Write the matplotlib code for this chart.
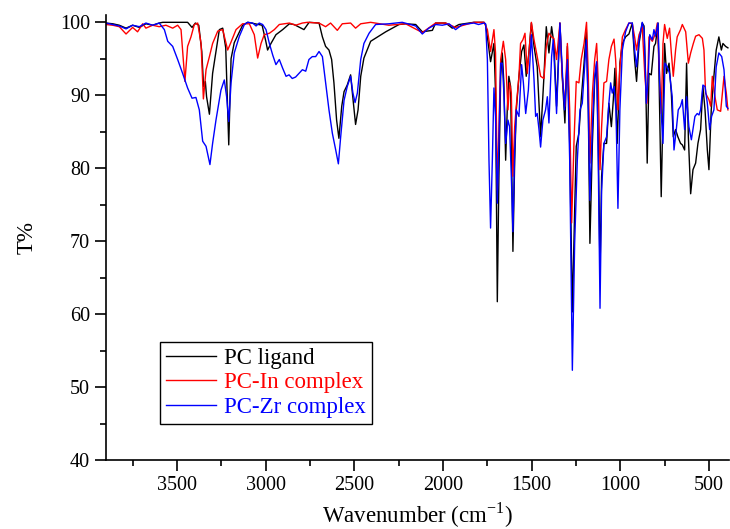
import matplotlib
matplotlib.use('Agg')
import matplotlib.pyplot as plt
from matplotlib.ticker import MultipleLocator

plt.rcParams['font.family'] = ['Liberation Serif', 'DejaVu Serif']
plt.rcParams['mathtext.fontset'] = 'custom'
plt.rcParams['mathtext.rm'] = 'Liberation Serif'

# PC ligand (black)
wn_ligand = [3900, 3862, 3825, 3787, 3750, 3712, 3675, 3637, 3600, 3580, 3530, 3480, 3440, 3415,
             3396, 3377, 3360, 3350, 3340, 3333, 3317, 3299, 3261, 3242, 3225, 3208, 3195,
             3177, 3130, 3101, 3060, 3020, 3000, 2989, 2970, 2942, 2904, 2866, 2840, 2784,
             2755, 2699, 2680, 2662, 2643, 2628, 2615, 2600, 2587, 2571, 2558, 2540, 2521,
             2511, 2493, 2479, 2464, 2446, 2408, 2323, 2248, 2211, 2154, 2117, 2060, 2042,
             1985, 1948, 1910, 1826, 1790, 1769, 1760, 1750, 1732, 1713, 1704, 1694, 1685,
             1675, 1666, 1657, 1647, 1638, 1629, 1619, 1613, 1606, 1596, 1587, 1572, 1557,
             1544, 1531, 1516, 1502, 1487, 1469, 1450, 1431, 1418, 1403, 1388, 1375, 1360,
             1341, 1328, 1313, 1299, 1286, 1271, 1258, 1249, 1234, 1221, 1205, 1192, 1181,
             1172, 1158, 1145, 1134, 1125, 1115, 1106, 1093, 1078, 1065, 1051, 1040, 1031,
             1018, 1003, 989, 971, 952, 933, 920, 909, 895, 877, 867, 858, 849, 839, 826,
             811, 802, 788, 779, 770, 760, 751, 740, 726, 713, 702, 689, 676, 661, 651, 638,
             627, 617, 604, 591, 576, 563, 548, 535, 523, 510, 501, 488, 473, 460, 445, 431,
             422, 407, 394]
t_ligand = [99.9, 99.8, 99.6, 99.2, 99.6, 99.3, 99.8, 99.6, 99.9, 100, 100, 100, 100, 99.3,
            99.9, 99.6, 96.0, 91.2, 91.9, 89.8, 87.4, 93.0, 99.0, 99.2, 96.5, 83.2, 95.0,
            97.2, 99.6, 100, 99.8, 99.6, 97.5, 96.2, 97.1, 98.3, 99.0, 99.8, 99.7, 99.0,
            100, 99.9, 98.0, 96.7, 96.2, 94.9, 91.7, 86.6, 84.1, 88.5, 90.5, 91.4, 92.8,
            90.3, 86.0, 88.0, 92.6, 95.1, 97.4, 98.7, 99.7, 99.8, 99.7, 98.7, 98.9, 99.9,
            99.9, 99.2, 99.7, 100, 100, 100, 99.7, 98.0, 94.6, 97.1, 90.3, 61.7, 78.9,
            92.6, 95.8, 91.7, 81.1, 88.0, 92.6, 91.2, 81.1, 68.6, 81.1, 88.0, 92.6, 96.0,
            96.9, 92.6, 95.8, 99.9, 96.7, 93.9, 84.3, 92.6, 99.4, 95.8, 99.4, 97.1, 88.5,
            99.9, 92.6, 86.2, 96.7, 83.4, 60.3, 74.2, 83.0, 84.8, 89.4, 94.4, 99.0, 88.0,
            69.7, 83.4, 92.1, 94.4, 83.4, 65.8, 78.9, 83.4, 83.4, 88.9, 85.7, 89.4, 93.7,
            83.4, 94.4, 97.1, 98.0, 98.4, 99.9, 94.9, 91.9, 97.1, 99.9, 99.5, 92.6, 80.7,
            93.0, 92.8, 96.7, 97.1, 99.9, 88.0, 76.1, 88.0, 97.1, 93.0, 94.4, 90.3, 84.3,
            85.3, 84.3, 83.4, 83.2, 82.5, 94.4, 84.3, 76.5, 79.8, 80.7, 83.4, 85.3, 91.2,
            88.0, 82.5, 79.8, 88.0, 92.6, 96.2, 98.0, 96.2, 97.1, 96.7, 96.5]

# PC-In complex (red)
wn_in = [3900, 3862, 3825, 3787, 3750, 3722, 3693, 3675, 3637, 3600, 3562, 3524, 3496, 3477,
         3464, 3455, 3440, 3421, 3402, 3383, 3364, 3351, 3336, 3317, 3299, 3270, 3242,
         3214, 3195, 3167, 3130, 3092, 3064, 3045, 3026, 3008, 2979, 2951, 2923, 2866,
         2831, 2793, 2765, 2699, 2662, 2634, 2596, 2568, 2521, 2493, 2464, 2408, 2305,
         2211, 2117, 2042, 1985, 1929, 1826, 1769, 1750, 1732, 1713, 1704, 1694, 1685,
         1675, 1660, 1647, 1634, 1625, 1615, 1606, 1596, 1587, 1572, 1563, 1550, 1538,
         1525, 1502, 1487, 1469, 1450, 1431, 1418, 1403, 1388, 1375, 1360, 1341, 1328,
         1313, 1299, 1286, 1275, 1262, 1249, 1234, 1221, 1205, 1191, 1181, 1172, 1158,
         1145, 1134, 1125, 1115, 1106, 1093, 1078, 1065, 1051, 1036, 1027, 1014, 1003,
         989, 971, 952, 933, 920, 909, 895, 877, 862, 850, 839, 820, 802, 792, 779, 770,
         760, 751, 736, 723, 713, 702, 689, 680, 661, 651, 632, 617, 604, 589, 576, 557,
         538, 529, 520, 501, 491, 482, 467, 454, 435, 416, 403, 394]
t_in = [99.7, 99.6, 99.4, 98.4, 99.3, 98.7, 99.8, 99.2, 99.6, 99.4, 99.6, 99.2, 99.6, 99.0,
        94.9, 91.9, 96.7, 98.0, 99.7, 99.9, 97.1, 89.5, 93.5, 95.3, 97.1, 98.8, 99.0,
        96.2, 97.3, 99.0, 99.8, 99.8, 98.3, 95.1, 97.1, 98.3, 98.5, 99.0, 99.7, 99.9,
        99.6, 99.9, 100, 99.9, 99.4, 99.9, 98.9, 99.8, 99.9, 99.2, 99.8, 100, 99.6,
        99.8, 98.6, 99.9, 99.9, 99.3, 100, 100, 99.0, 96.0, 99.0, 95.8, 77.0, 85.7,
        94.9, 97.4, 94.9, 88.0, 91.7, 90.3, 78.9, 85.7, 88.5, 92.6, 97.1, 97.6, 98.5,
        93.0, 100, 97.6, 95.3, 92.6, 92.3, 96.7, 98.5, 98.0, 97.8, 94.9, 99.9, 92.6,
        88.5, 97.1, 88.0, 72.5, 83.4, 91.9, 91.7, 94.9, 97.1, 100, 92.6, 80.7, 90.3,
        94.9, 97.1, 91.7, 79.8, 85.7, 91.7, 91.9, 94.9, 96.7, 97.7, 94.9, 88.0, 93.9,
        98.0, 99.0, 99.9, 99.8, 98.0, 96.2, 98.3, 99.4, 92.6, 88.9, 98.0, 97.4, 98.5,
        99.9, 92.8, 87.5, 97.1, 99.7, 97.8, 99.2, 95.8, 92.6, 96.2, 98.0, 99.0, 99.7,
        98.7, 94.4, 95.8, 97.1, 98.1, 98.3, 97.8, 96.2, 90.3, 89.4, 88.5, 92.6, 89.8,
        88.0, 87.8, 92.6, 90.3, 88.0]

# PC-Zr complex (blue)
wn_zr = [3900, 3862, 3825, 3787, 3750, 3712, 3675, 3637, 3600, 3571, 3552, 3524, 3496, 3468,
         3440, 3415, 3393, 3374, 3355, 3336, 3314, 3299, 3280, 3252, 3233, 3220, 3208,
         3195, 3177, 3148, 3120, 3101, 3073, 3054, 3036, 3017, 2998, 2979, 2960, 2942,
         2923, 2904, 2885, 2868, 2850, 2831, 2793, 2774, 2756, 2737, 2718, 2699, 2680,
         2662, 2643, 2624, 2605, 2590, 2577, 2558, 2540, 2521, 2508, 2496, 2483, 2464,
         2446, 2417, 2380, 2305, 2230, 2154, 2117, 2080, 2042, 2004, 1966, 1929, 1891,
         1826, 1800, 1769, 1760, 1750, 1741, 1732, 1722, 1713, 1704, 1694, 1685, 1675,
         1666, 1657, 1647, 1634, 1625, 1615, 1606, 1596, 1587, 1572, 1557, 1547, 1534,
         1519, 1502, 1487, 1478, 1469, 1459, 1450, 1437, 1422, 1412, 1403, 1388, 1379,
         1369, 1360, 1341, 1328, 1315, 1299, 1286, 1271, 1258, 1243, 1228, 1215, 1205,
         1192, 1181, 1172, 1158, 1145, 1134, 1125, 1115, 1106, 1093, 1078, 1065, 1055,
         1046, 1036, 1025, 1014, 1003, 989, 971, 952, 933, 920, 909, 895, 877, 867, 854,
         843, 835, 820, 811, 802, 788, 779, 770, 760, 749, 736, 723, 708, 698, 685, 674,
         661, 651, 638, 627, 614, 600, 589, 580, 567, 557, 548, 535, 523, 510, 497, 486,
         473, 460, 445, 429, 416, 403, 394]
t_zr = [99.9, 99.7, 99.5, 99.1, 99.6, 99.4, 99.9, 99.6, 99.9, 99.0, 97.4, 96.7, 94.9, 93.0,
        91.0, 89.6, 89.7, 88.0, 83.7, 83.0, 80.5, 83.4, 86.6, 90.7, 92.1, 89.8, 86.4,
        91.7, 95.8, 98.1, 99.7, 100, 99.9, 99.5, 99.9, 99.7, 99.0, 97.1, 95.5, 94.2,
        94.9, 93.7, 92.6, 92.8, 92.3, 92.5, 93.5, 93.3, 94.9, 95.3, 95.3, 96.0, 95.3,
        91.7, 88.0, 84.8, 82.5, 80.6, 84.3, 89.3, 91.2, 92.6, 90.3, 89.0, 90.3, 94.9,
        97.1, 98.5, 99.7, 99.8, 100, 99.5, 98.4, 99.2, 99.7, 99.6, 99.8, 99.0, 99.7,
        99.9, 99.7, 99.9, 99.8, 94.9, 81.1, 71.8, 81.1, 91.0, 87.1, 75.2, 83.4, 94.4,
        94.4, 90.3, 83.4, 86.6, 85.7, 78.9, 71.3, 82.5, 88.0, 87.1, 94.2, 91.7, 87.5,
        90.7, 98.3, 92.1, 87.1, 87.5, 85.3, 82.9, 86.6, 88.0, 89.8, 86.2, 95.3, 97.6,
        92.6, 87.5, 99.9, 93.5, 88.0, 94.9, 81.1, 52.3, 69.7, 81.1, 88.0, 88.9, 92.6,
        97.6, 88.0, 75.6, 85.7, 92.6, 94.6, 81.1, 60.8, 76.9, 83.4, 84.3, 88.9, 91.7,
        90.3, 91.2, 88.0, 74.5, 88.0, 96.2, 98.7, 99.9, 99.9, 96.2, 93.9, 97.6, 100,
        99.0, 88.9, 92.6, 98.3, 97.6, 99.0, 98.1, 99.9, 91.9, 87.5, 83.4, 94.4, 93.9,
        93.0, 89.8, 82.5, 85.3, 88.0, 88.5, 89.4, 85.3, 89.8, 85.7, 83.9, 85.7, 87.1,
        87.5, 87.3, 88.0, 91.4, 91.2, 88.9, 85.3, 87.1, 88.0, 93.9, 95.8, 95.3, 93.5,
        88.5, 88.2]

fig = plt.figure(figsize=(7.3, 5.29), dpi=100)
ax = fig.add_axes([0.1452, 0.1304, 0.8534, 0.8412])

ax.plot(wn_ligand, t_ligand, color='black', lw=1.0, label='PC ligand')
ax.plot(wn_in, t_in, color='red', lw=1.0, label='PC-In complex')
ax.plot(wn_zr, t_zr, color='blue', lw=1.0, label='PC-Zr complex')

ax.set_xlim(3900, 388)
ax.set_ylim(40, 101)
ax.xaxis.set_major_locator(MultipleLocator(500))
ax.xaxis.set_minor_locator(MultipleLocator(250))
ax.yaxis.set_major_locator(MultipleLocator(10))
ax.yaxis.set_minor_locator(MultipleLocator(5))
ax.tick_params(which='major', direction='out', length=8, width=1.2, labelsize=14.5)
ax.tick_params(which='minor', direction='out', length=4, width=1.2)
ax.spines['top'].set_visible(False)
ax.spines['right'].set_visible(False)
ax.spines['left'].set_linewidth(1.2)
ax.spines['bottom'].set_linewidth(1.2)

ax.set_xlabel('Wavenumber (cm$^{\\mathrm{-1}}$)', fontsize=16.5, labelpad=4)
ax.set_ylabel('T%', fontsize=16.5, labelpad=16)

leg = ax.legend(loc='lower left', bbox_to_anchor=(0.087, 0.082), borderaxespad=0,
                fancybox=False, edgecolor='black', framealpha=1, fontsize=16.5,
                handlelength=2.2, handletextpad=0.35, labelspacing=0.15,
                borderpad=0.25, labelcolor='linecolor')
leg.get_frame().set_linewidth(1.0)

fig.savefig('out.png', dpi=100)
